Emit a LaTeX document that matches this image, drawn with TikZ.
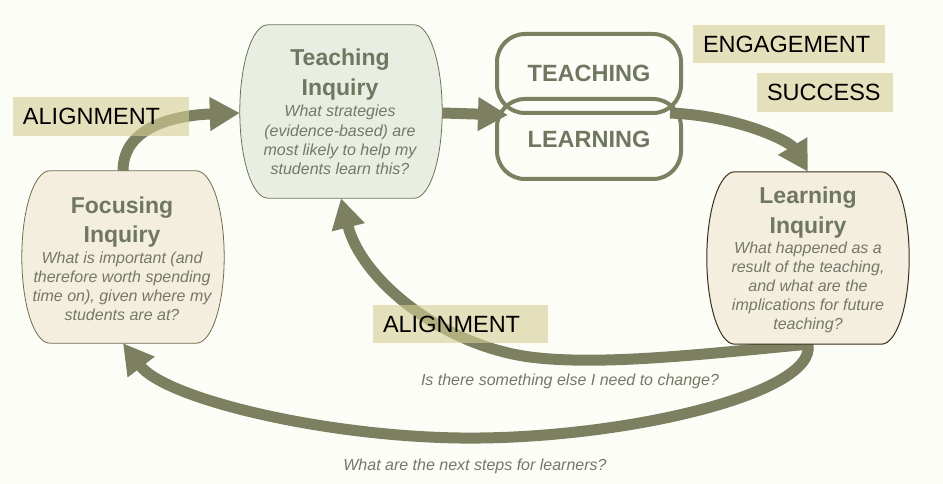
\documentclass[tikz,border=0pt]{standalone}
\usepackage{fontspec}
\setmainfont{Liberation Sans}
\usetikzlibrary{arrows.meta}
\definecolor{bg}{RGB}{253,253,247}
\definecolor{olive}{RGB}{124,128,96}
\definecolor{tfill}{RGB}{233,238,227}
\definecolor{ffill}{RGB}{243,238,221}
\definecolor{tedge}{RGB}{110,115,88}
\definecolor{fedge}{RGB}{112,108,76}
\definecolor{ledge}{RGB}{60,46,28}
\definecolor{ttl}{RGB}{112,119,96}
\definecolor{itx}{RGB}{117,120,104}
\definecolor{lbl}{RGB}{213,206,150}
\setlength{\tabcolsep}{0pt}
\newcommand\barrelpath[1]{([xshift=28pt]#1.north west) -- ([xshift=-28pt]#1.north east) .. controls +(15.5,0) and +(0,-48) .. (#1.east) .. controls +(0,48) and +(15.5,0) .. ([xshift=-28pt]#1.south east) -- ([xshift=28pt]#1.south west) .. controls +(-15.5,0) and +(0,48) .. (#1.west) .. controls +(0,-48) and +(-15.5,0) .. ([xshift=28pt]#1.north west) -- cycle}
\begin{document}
\begin{tikzpicture}[x=1pt,y=-1pt,
  area/.style={inner sep=0pt, minimum width=202pt, minimum height=#1},
  arr/.style={draw=olive, line width=11pt, -{Triangle[length=30pt,width=32pt]}},
  capsule/.style={draw=olive, line width=4pt, rounded corners=28pt, inner sep=0pt, minimum width=184pt, text=ttl, font=\fontsize{23.5}{28}\selectfont\bfseries},
  lab/.style={fill=lbl, fill opacity=0.6, text opacity=1, text=black, inner ysep=0pt, inner xsep=10pt, align=left, font=\fontsize{23.5}{28}\selectfont},
  ttlnode/.style={anchor=base, inner sep=0pt, text=ttl, font=\fontsize{23}{29.5}\selectfont\bfseries},
  bodynode/.style={anchor=base, inner sep=0pt, text=itx, font=\fontsize{16}{19.2}\selectfont\itshape},
  barrel/.style={line width=0.8pt}]
\useasboundingbox (0,0) rectangle (943,484);
\fill[bg] (0,0) rectangle (943,484);
% box areas
\node[area=173pt] (teach) at (341,111.5) {};
\node[area=172pt] (focus) at (123,257) {};
\node[area=172pt] (learn) at (808,258) {};
% arrows under boxes
\draw[arr] (focus.north) .. controls +(0,-46) and +(-60,2) .. ([yshift=-1.5pt]teach.west);
\draw[arr] (learn.south) .. controls +(-105,10) and +(70,9) .. (530,357) .. controls +(-90,-12) and +(20,80) .. (teach.south);
\draw[arr] (learn.south) .. controls +(9,50) and +(160,2) .. (460,438) .. controls +(-140,-2) and +(42,55) .. (focus.south);
% boxes
\draw[barrel, fill=tfill, draw=tedge] \barrelpath{teach};
\draw[barrel, fill=ffill, draw=fedge] \barrelpath{focus};
\draw[barrel, fill=ffill, draw=ledge, line width=1pt] \barrelpath{learn};
% box texts
\node[ttlnode] (teachT) at (340,66) {\begin{tabular}[t]{c}Teaching\\Inquiry\end{tabular}};
\node[bodynode] (teachB) at (340,117) {\begin{tabular}[t]{c}What strategies\\(evidence-based) are\\most likely to help my\\students learn this?\end{tabular}};
\node[ttlnode] (focusT) at (122,213) {\begin{tabular}[t]{c}Focusing\\Inquiry\end{tabular}};
\node[bodynode] (focusB) at (122,263) {\begin{tabular}[t]{c}What is important (and\\therefore worth spending\\time on), given where my\\students are at?\end{tabular}};
\node[ttlnode] (learnT) at (808,204) {\begin{tabular}[t]{c}Learning\\Inquiry\end{tabular}};
\node[bodynode] (learnB) at (808,253) {\begin{tabular}[t]{c}What happened as a\\result of the teaching,\\and what are the\\implications for future\\teaching?\end{tabular}};
% capsules
\node[capsule, minimum height=79pt] (tcap) at (589,73.5) {TEACHING};
\node[capsule, minimum height=80pt] (lcap) at (589,139) {LEARNING};
% arrows over capsules
\draw[arr] ([yshift=-1.5pt]teach.east) -- ([xshift=13pt]tcap.south west);
\draw[arr] ([xshift=-13pt,yshift=2pt]tcap.south east) .. controls +(70,3) and +(-18,-30) .. (learn.north);
% labels
\node[lab, text width=156pt, minimum height=39pt] (al1) at (101,116.5) {ALIGNMENT};
\node[lab, text width=155pt, minimum height=38pt] (al2) at (460.5,324) {ALIGNMENT};
\node[lab, text width=172pt, minimum height=38pt] (eng) at (789,44) {ENGAGEMENT};
\node[lab, text width=116pt, minimum height=39pt] (suc) at (825,92.5) {SUCCESS};
% bottom questions
\node[bodynode] (q1) at (570,385) {Is there something else I need to change?};
\node[bodynode] (q2) at (475,470) {What are the next steps for learners?};
\end{tikzpicture}
\end{document}
